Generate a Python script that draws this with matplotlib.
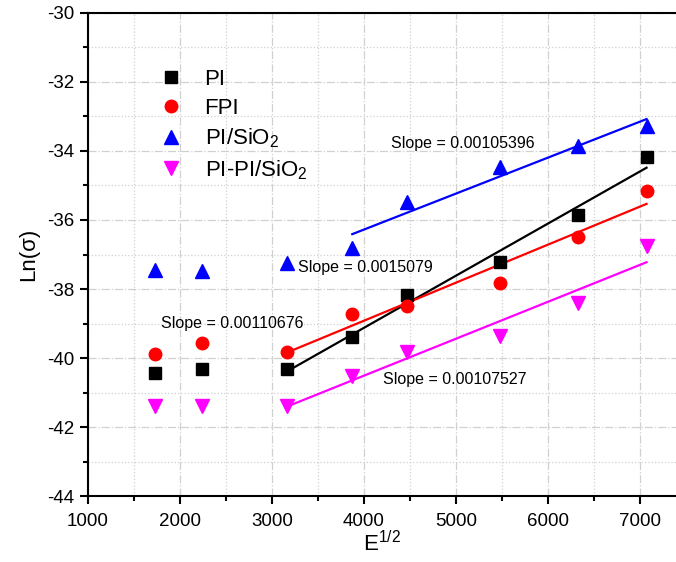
import numpy as np
import matplotlib
matplotlib.use("Agg")
import matplotlib.pyplot as plt
from matplotlib.ticker import MultipleLocator

plt.rcParams['font.family'] = ['Liberation Sans', 'DejaVu Sans']
plt.rcParams['mathtext.fontset'] = 'custom'
plt.rcParams['mathtext.rm'] = 'Liberation Sans'
plt.rcParams['mathtext.it'] = 'Liberation Sans:italic'
plt.rcParams['axes.unicode_minus'] = False

# sqrt(E) values
x = [1732, 2236, 3162, 3873, 4472, 5477, 6325, 7071]

pi = [-40.43, -40.33, -40.32, -39.38, -38.17, -37.22, -35.86, -34.16]
fpi = [-39.88, -39.57, -39.82, -38.72, -38.49, -37.82, -36.48, -35.15]
pi_sio2 = [-37.45, -37.47, -37.25, -36.80, -35.47, -34.47, -33.85, -33.27]
pi_pi_sio2 = [-41.39, -41.39, -41.39, -40.52, -39.82, -39.36, -38.40, -36.75]

# first point index used for each linear fit
fit_start = [2, 2, 3, 2]
slope_labels = ["Slope = 0.0015079", "Slope = 0.00110676",
                "Slope = 0.00105396", "Slope = 0.00107527"]
label_pos = [(3280, -37.39), (1800, -38.99), (4290, -33.77), (4210, -40.61)]

names = ["PI", "FPI", "PI/SiO$_2$", "PI-PI/SiO$_2$"]
colors = ["black", "red", "blue", "magenta"]
markers = ["s", "o", "^", "v"]
sizes = [8, 9, 10, 10]

fig = plt.figure(figsize=(6.76, 5.62), dpi=100)
ax = fig.add_axes([0.130, 0.1174, 0.870, 0.8595])

series = [pi, fpi, pi_sio2, pi_pi_sio2]
xa = np.array(x, dtype=float)
for ys, name, c, m, ms, s0 in zip(series, names, colors, markers, sizes, fit_start):
    ya = np.array(ys)
    ax.plot(xa, ya, linestyle='none', marker=m, color=c, markersize=ms,
            label=name, zorder=3)
    k, b = np.polyfit(xa[s0:], ya[s0:], 1)
    xf = np.array([xa[s0], xa[-1]])
    ax.plot(xf, k * xf + b, color=c, lw=1.6, zorder=2)

for txt, (tx, ty) in zip(slope_labels, label_pos):
    ax.text(tx, ty, txt, fontsize=11.5, va='center', ha='left')

ax.set_xlim(1000, 7391)
ax.set_ylim(-44, -30)
ax.xaxis.set_major_locator(MultipleLocator(1000))
ax.xaxis.set_minor_locator(MultipleLocator(500))
ax.yaxis.set_major_locator(MultipleLocator(2))
ax.yaxis.set_minor_locator(MultipleLocator(1))

ax.grid(which='major', color='#d0d0d0', linestyle='-.', lw=0.9)
ax.grid(which='minor', color='#d0d0d0', linestyle=':', lw=0.9)
ax.set_axisbelow(True)

ax.spines['right'].set_visible(False)
for sp in ['left', 'bottom', 'top']:
    ax.spines[sp].set_linewidth(1.5)
ax.tick_params(which='major', direction='out', length=6, width=1.5,
               labelsize=13.5, top=False, right=False)
ax.tick_params(axis='x', which='major', pad=6)
ax.tick_params(which='minor', direction='out', length=3.5, width=1.5,
               top=False, right=False)

ax.set_xlabel(r'E$^{1/2}$', fontsize=16, labelpad=1)
ax.set_ylabel('Ln(σ)', fontsize=16, labelpad=6)

ax.legend(loc='upper left', bbox_to_anchor=(0.07, 0.925), frameon=False,
          fontsize=16, handletextpad=0.5, labelspacing=0.35, numpoints=1)

fig.savefig('out.png', dpi=100)
